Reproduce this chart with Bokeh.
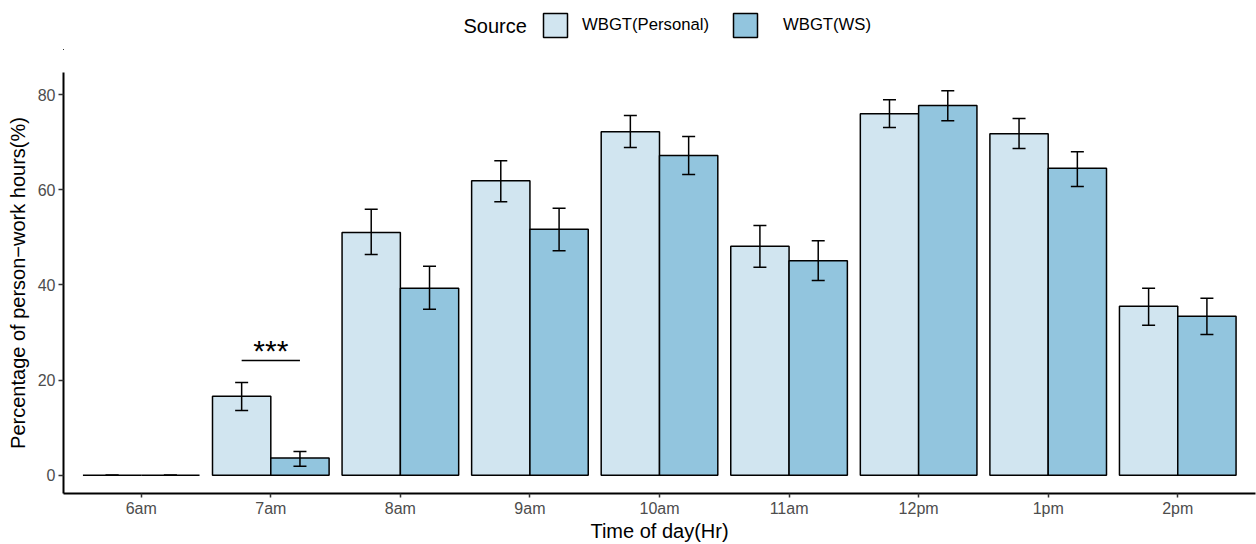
from bokeh.plotting import figure
from bokeh.layouts import column
from bokeh.models import (ColumnDataSource, Range1d, FixedTicker, Whisker, TeeHead,
                          Legend, LegendItem, Label)
from bokeh.transform import dodge
from bokeh.core.properties import value
from bokeh.embed import file_html
from bokeh.resources import INLINE

# ---- data ----
categories = ["6am", "7am", "8am", "9am", "10am", "11am", "12pm", "1pm", "2pm"]
series_names = ["WBGT(Personal)", "WBGT(WS)"]
legend_title = "Source"
personal = [0.0, 16.6, 51.0, 61.9, 72.2, 48.1, 76.0, 71.8, 35.5]
personal_lo = [0.0, 13.6, 46.4, 57.5, 68.9, 43.7, 73.1, 68.7, 31.5]
personal_hi = [0.0, 19.5, 55.9, 66.1, 75.6, 52.5, 78.9, 75.0, 39.3]
ws = [0.0, 3.6, 39.3, 51.7, 67.2, 45.1, 77.7, 64.5, 33.4]
ws_lo = [0.0, 1.9, 34.9, 47.2, 63.2, 40.9, 74.5, 60.7, 29.6]
ws_hi = [0.0, 5.0, 43.9, 56.1, 71.2, 49.3, 80.8, 68.0, 37.2]
y_ticks = [0, 20, 40, 60, 80]
sig_categories = ["7am"]
sig_y = [24.1]
sig_label = ["***"]

colors = ["#d1e5f0", "#92c5de"]
FONT = "Liberation Sans"
LEG_H = 50
LEFT = 63

xs = list(range(len(categories)))
src = ColumnDataSource(dict(x=xs, p=personal, p_lo=personal_lo, p_hi=personal_hi,
                            w=ws, w_lo=ws_lo, w_hi=ws_hi))

p = figure(width=1256, height=544 - LEG_H, x_range=Range1d(-0.6, 8.6),
           y_range=Range1d(-3.85, 84.65), output_backend="svg", toolbar_location=None,
           min_border_left=LEFT, min_border_right=1, min_border_top=72 - LEG_H,
           min_border_bottom=51)
p.outline_line_color = None
p.grid.visible = False
p.background_fill_color = "white"
p.border_fill_color = "white"

off = 0.225
bar_style = [dict(fill_color=c, line_color="black", line_width=1.5) for c in colors]
p.vbar(x=dodge("x", -off, range=p.x_range), top="p", bottom=0, width=0.45,
       source=src, **bar_style[0])
p.vbar(x=dodge("x", off, range=p.x_range), top="w", bottom=0, width=0.45,
       source=src, **bar_style[1])

for d, lo, hi in [(-off, "p_lo", "p_hi"), (off, "w_lo", "w_hi")]:
    wk = Whisker(base=dodge("x", d, range=p.x_range), lower=lo, upper=hi, source=src,
                 line_color="black", line_width=1.5,
                 upper_head=TeeHead(size=13, line_color="black", line_width=1.5),
                 lower_head=TeeHead(size=13, line_color="black", line_width=1.5))
    wk.level = "overlay"
    p.add_layout(wk)

# significance marker
sig_x = [categories.index(c) for c in sig_categories]
sig_src = ColumnDataSource(dict(x=sig_x, y=sig_y, t=sig_label))
p.segment(x0=dodge("x", -off, range=p.x_range), x1=dodge("x", off, range=p.x_range),
          y0="y", y1="y", source=sig_src, line_color="black", line_width=1.5)
p.text(x="x", y="y", text="t", source=sig_src, text_align="center",
       text_baseline="middle", y_offset=-10, text_font_size="30px",
       text_font=value(FONT), text_color="black")

# axes
p.xaxis.ticker = FixedTicker(ticks=xs)
p.xaxis.major_label_overrides = {i: c for i, c in zip(xs, categories)}
p.yaxis.ticker = FixedTicker(ticks=y_ticks)
for ax in (p.xaxis[0], p.yaxis[0]):
    ax.axis_line_color = "black"
    ax.axis_line_width = 2
    ax.major_tick_line_color = "#333333"
    ax.major_tick_line_width = 1.5
    ax.major_tick_out = 5
    ax.major_tick_in = 0
    ax.minor_tick_line_color = None
    ax.major_label_text_font = FONT
    ax.major_label_text_font_size = "16px"
    ax.major_label_text_color = "#4d4d4d"
    ax.major_label_standoff = 3
    ax.axis_label_text_font = FONT
    ax.axis_label_text_font_size = "20px"
    ax.axis_label_text_font_style = "normal"
    ax.axis_label_text_color = "black"
    ax.axis_label_standoff = 6
p.xaxis.major_label_standoff = 2
p.xaxis.axis_label_standoff = 0
p.xaxis.major_tick_out = 4
p.xaxis.axis_label = "Time of day(Hr)"
p.yaxis.axis_label = "Percentage of person\u2212work hours(%)"

# legend strip on top (its frame is aligned with the main plot's frame)
lg = figure(width=1256, height=LEG_H, x_range=Range1d(100, 101),
            y_range=Range1d(1000, 1001), output_backend="svg", toolbar_location=None,
            x_axis_type=None, y_axis_type=None, min_border=0)
lg.outline_line_color = None
lg.grid.visible = False
lg.add_layout(Label(x=463 - LEFT, y=LEG_H - 25, x_units="screen", y_units="screen",
                    text=legend_title, text_font=FONT, text_font_size="20px",
                    text_color="black", text_align="left", text_baseline="middle"))
# key renderers use the real series but lie far outside this strip's visible range
keys = [lg.vbar(x="x", top=col, bottom=0, width=0.45, source=src, **bs)
        for col, bs in zip(["p", "w"], bar_style)]
for name, k, lx, stand in zip(series_names, keys, [540, 730], [12, 23]):
    lgd = Legend(items=[LegendItem(label=name, renderers=[k])],
                 orientation="horizontal", location=(lx - LEFT, LEG_H - 40),
                 label_text_font=FONT, label_text_font_size="16.7px",
                 label_text_color="black", label_text_baseline="middle",
                 glyph_width=30, glyph_height=30, label_standoff=stand, spacing=0,
                 padding=0, margin=0, border_line_color=None,
                 background_fill_alpha=0)
    lg.add_layout(lgd, "center")

layout = column(lg, p, spacing=0)
open("out.html", "w").write(file_html(layout, INLINE))
